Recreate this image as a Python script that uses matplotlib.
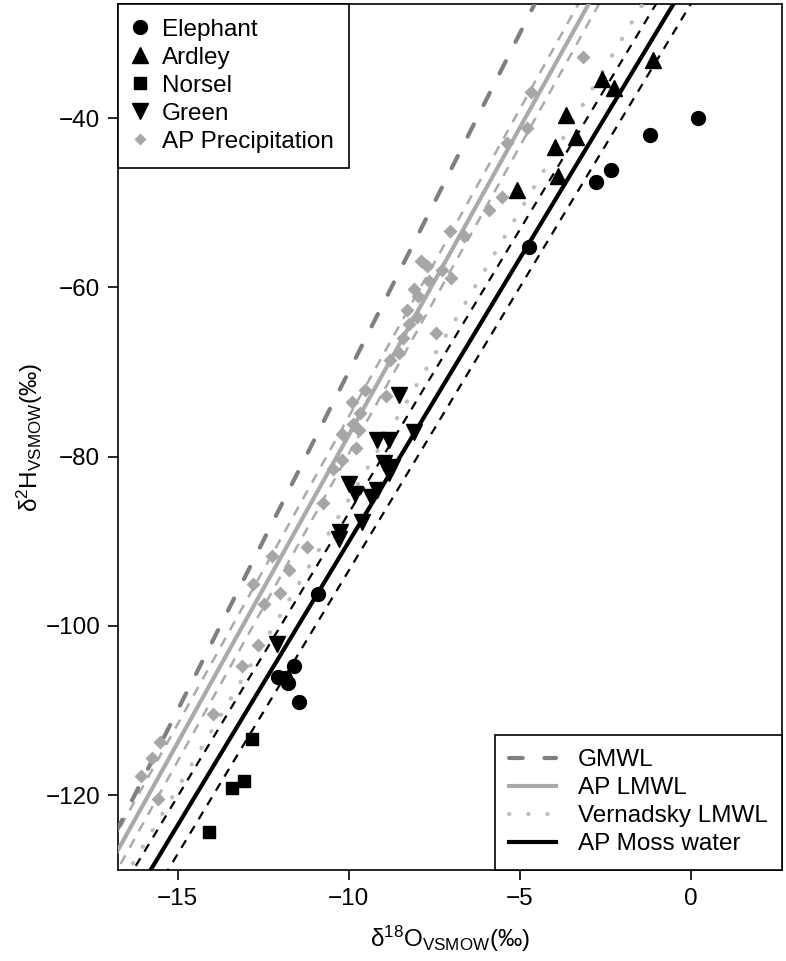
import numpy as np
import matplotlib
matplotlib.use('Agg')
import matplotlib.pyplot as plt
from matplotlib.lines import Line2D

plt.rcParams['font.family'] = ['Liberation Sans', 'DejaVu Sans']
plt.rcParams['mathtext.fontset'] = 'custom'
plt.rcParams['mathtext.rm'] = 'Liberation Sans'
plt.rcParams['mathtext.it'] = 'Liberation Sans:italic'

# moss water samples, per site
elephant_x = [0.21, -1.20, -2.34, -2.78, -4.74, -10.91, -11.60, -12.05, -11.85, -11.76, -11.45]
elephant_y = [-40.0, -42.0, -46.1, -47.6, -55.3, -96.2, -104.8, -106.0, -106.2, -106.8, -109.0]

ardley_x = [-1.10, -2.61, -2.26, -3.64, -3.35, -3.96, -3.88, -5.08]
ardley_y = [-33.1, -35.4, -36.4, -39.6, -42.2, -43.4, -46.9, -48.5]

norsel_x = [-12.81, -13.05, -13.41, -14.08]
norsel_y = [-113.4, -118.3, -119.2, -124.4]

green_x = [-8.54, -8.09, -9.17, -8.81, -8.98, -8.73, -8.81, -9.99, -9.17, -9.80,
           -9.36, -9.61, -10.24, -10.27, -12.10]
green_y = [-72.7, -77.1, -78.1, -78.0, -80.8, -81.2, -82.0, -83.2, -83.9, -84.4,
           -84.8, -87.7, -88.9, -89.7, -102.1]

# AP precipitation
precip_x = [-3.16, -4.68, -4.80, -5.37, -5.52, -5.90, -7.04, -6.62, -7.90, -7.27,
            -7.02, -7.65, -7.97, -8.31, -8.23, -7.46, -8.54, -8.79, -9.52, -8.92,
            -9.90, -9.68, -9.86, -9.70, -10.18, -9.78, -10.18, -10.45, -10.75, -11.22,
            -12.23, -11.73, -12.78, -12.02, -12.46, -12.65, -13.12, -13.95, -15.52, -15.75,
            -16.07, -15.56, -8.0, -8.4, -8.1, -7.7]
precip_y = [-32.8, -36.9, -41.2, -42.9, -49.3, -50.9, -53.4, -54.0, -56.9, -58.0,
            -58.9, -59.3, -61.0, -62.7, -64.3, -65.4, -67.8, -68.6, -72.1, -72.9,
            -73.5, -74.9, -76.1, -76.9, -77.3, -79.0, -80.4, -81.5, -85.5, -90.7,
            -91.8, -93.4, -95.1, -96.1, -97.4, -102.3, -104.8, -110.4, -113.7, -115.6,
            -117.8, -120.5, -63.5, -66.0, -60.2, -57.5]

# water lines: dD = slope * d18O + intercept
line_names = ['GMWL', 'AP LMWL', 'Vernadsky LMWL', 'AP Moss water']
line_slopes = [8.0, 7.27, 6.82, 6.70]
line_intercepts = [10.0, -4.8, -16.9, -23.1]
lmwl_band = 2.2
moss_band = 3.4

xlim = (-16.73, 2.66)
ylim = (-128.86, -26.53)

fig = plt.figure(figsize=(7.86, 9.61), dpi=100)
ax = fig.add_axes([0.1505, 0.0947, 0.8444, 0.9011])

xs = np.array([xlim[0] - 1, xlim[1] + 1])

c_dark = '#7f7f7f'
c_light = '#aaaaaa'
c_dot = '#bdbdbd'
fs = 17.5

# bands first
s, b = line_slopes[1], line_intercepts[1]
for off in (-lmwl_band, lmwl_band):
    ax.plot(xs, s * xs + b + off, color=c_light, lw=1.8, dashes=(4, 3.5), zorder=2)
s, b = line_slopes[3], line_intercepts[3]
for off in (-moss_band, moss_band):
    ax.plot(xs, s * xs + b + off, color='black', lw=1.6, dashes=(4, 3.5), zorder=2)

styles = [
    dict(color=c_dark, lw=3, dashes=(3.3, 5.2), dash_capstyle='round'),
    dict(color=c_light, lw=3),
    dict(color=c_dot, lw=3, dashes=(0.1, 4.5), dash_capstyle='round'),
    dict(color='black', lw=3),
]
handles2 = []
for name, s, b, st in zip(line_names, line_slopes, line_intercepts, styles):
    ln, = ax.plot(xs, s * xs + b, zorder=3, label=name, **st)
    handles2.append(ln)

ax.plot(precip_x, precip_y, 'D', color='#a6a6a6', ms=7, mec='none', zorder=4)
ax.plot(elephant_x, elephant_y, 'o', color='black', ms=10, zorder=5)
ax.plot(ardley_x, ardley_y, '^', color='black', ms=11, zorder=5)
ax.plot(norsel_x, norsel_y, 's', color='black', ms=9, zorder=5)
ax.plot(green_x, green_y, 'v', color='black', ms=11, zorder=5)

ax.set_xlim(xlim)
ax.set_ylim(ylim)
ax.set_xticks([-15, -10, -5, 0])
ax.set_yticks([-40, -60, -80, -100, -120])
ax.tick_params(labelsize=fs, length=7, width=1.2, pad=6)
for sp in ax.spines.values():
    sp.set_linewidth(1.2)

ax.set_xlabel('δ$^{18}$O$_{\\mathrm{VSMOW}}$(‰)', fontsize=fs, labelpad=10)
ax.set_ylabel('δ$^{2}$H$_{\\mathrm{VSMOW}}$(‰)', fontsize=fs, labelpad=0)

handles1 = [
    Line2D([], [], marker='o', ls='none', color='black', ms=10),
    Line2D([], [], marker='^', ls='none', color='black', ms=11),
    Line2D([], [], marker='s', ls='none', color='black', ms=9),
    Line2D([], [], marker='v', ls='none', color='black', ms=11),
    Line2D([], [], marker='D', ls='none', color='#a6a6a6', mec='none', ms=6),
]
labels1 = ['Elephant', 'Ardley', 'Norsel', 'Green', 'AP Precipitation']
leg1 = ax.legend(handles1, labels1, loc='upper left', fontsize=fs, frameon=True,
                 fancybox=False, edgecolor='black', framealpha=1, borderaxespad=0,
                 handlelength=0.6, handletextpad=0.6, labelspacing=0.25, borderpad=0.6)
leg1.get_frame().set_linewidth(1.2)
ax.add_artist(leg1)

leg2 = ax.legend(handles2, line_names, loc='lower right', fontsize=fs, frameon=True,
                 fancybox=False, edgecolor='black', framealpha=1, borderaxespad=0,
                 handlelength=1.9, handletextpad=0.9, labelspacing=0.25, borderpad=0.6)
leg2.get_frame().set_linewidth(1.2)

fig.savefig('out.png', dpi=100)
